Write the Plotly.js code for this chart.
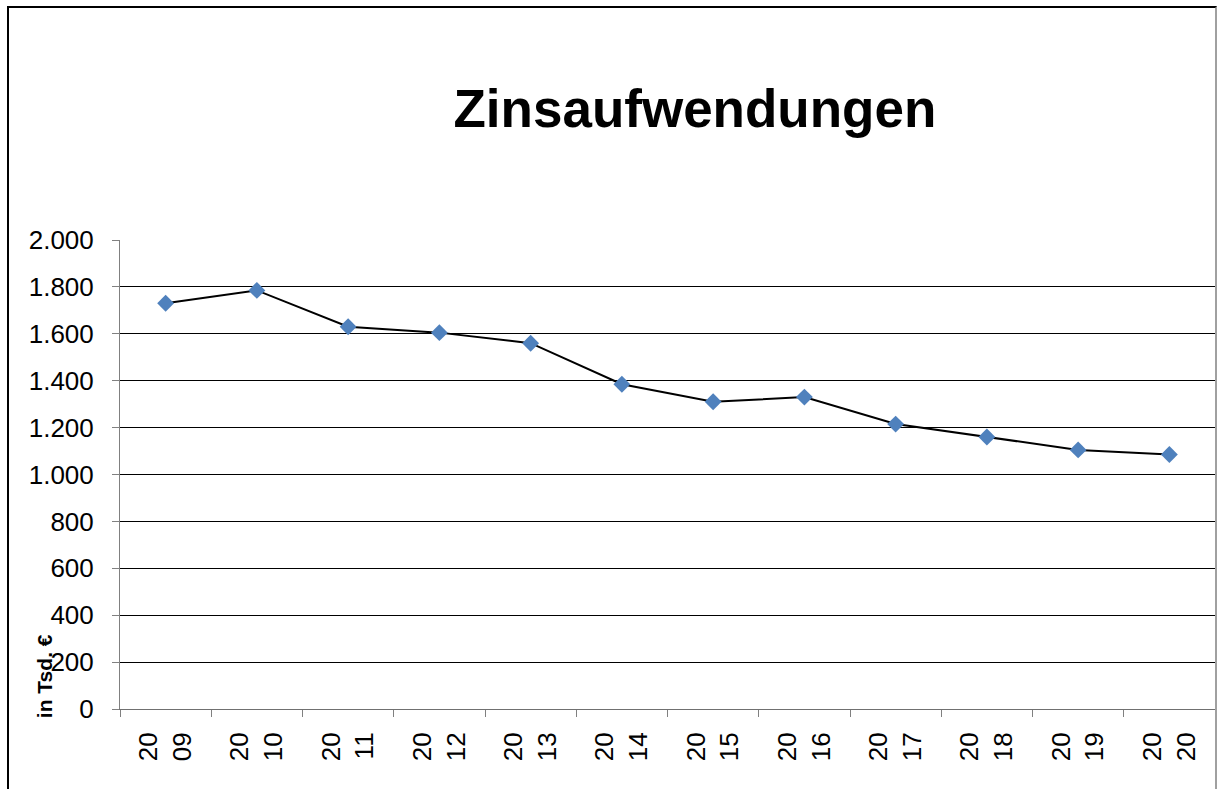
<!DOCTYPE html>
<html>
<head>
<meta charset="utf-8">
<script src="https://cdn.plot.ly/plotly-3.0.1.min.js"></script>
<style>
html,body{margin:0;padding:0;background:#fff;overflow:hidden;}
#frame{position:absolute;left:7px;top:6px;width:1210px;height:820px;border-left:2px solid #000;border-top:2px solid #000;border-right:2px solid #a0a0a0;box-sizing:border-box;pointer-events:none;z-index:5;}
#chart{position:absolute;left:0;top:0;width:1217px;height:789px;}
</style>
</head>
<body>
<div id="chart"></div>
<div id="frame"></div>
<script>
const years = ["2009","2010","2011","2012","2013","2014","2015","2016","2017","2018","2019","2020"];
const tickLabels = ["20<br>09","20<br>10","20<br>11","20<br>12","20<br>13","20<br>14","20<br>15","20<br>16","20<br>17","20<br>18","20<br>19","20<br>20"];
const zinsaufwendungen = [1730, 1785, 1630, 1605, 1560, 1385, 1310, 1330, 1215, 1160, 1105, 1085];
const yTicks = [0,200,400,600,800,1000,1200,1400,1600,1800,2000];

const FONT = 'Liberation Sans, Arial, sans-serif';

const trace = {
  x: years,
  y: zinsaufwendungen,
  type: 'scatter',
  mode: 'lines+markers',
  line: {color: '#000000', width: 2},
  marker: {symbol: 'diamond', size: 13, color: '#4F81BD'},
  hoverinfo: 'x+y'
};

const layout = {
  width: 1217,
  height: 789,
  margin: {l: 120, r: 2, t: 240, b: 80},
  paper_bgcolor: '#ffffff',
  plot_bgcolor: '#ffffff',
  separators: ',.',
  showlegend: false,
  font: {family: FONT, color: '#000'},
  title: {
    text: '<b>Zinsaufwendungen</b>',
    font: {size: 53, family: FONT, color: '#000'},
    x: 0.571, xref: 'container', xanchor: 'center',
    y: 0.863, yref: 'container', yanchor: 'middle'
  },
  xaxis: {
    type: 'category',
    tickmode: 'array',
    tickvals: years,
    ticktext: tickLabels,
    tickangle: -90,
    tickson: 'boundaries',
    ticks: 'outside',
    ticklen: 7,
    tickcolor: '#808080',
    showline: true,
    linecolor: '#707070',
    linewidth: 1,
    showgrid: false,
    zeroline: false,
    tickfont: {size: 26, family: FONT, color: '#000'},
    ticklabelstandoff: 12,
    range: [-0.5, 11.5],
    fixedrange: true
  },
  yaxis: {
    range: [0, 2000],
    tickmode: 'array',
    tickvals: yTicks,
    tickformat: ',d',
    ticks: 'outside',
    ticklen: 7,
    tickcolor: '#808080',
    showline: true,
    linecolor: '#808080',
    linewidth: 1,
    showgrid: true,
    gridcolor: '#000000',
    gridwidth: 1,
    zeroline: false,
    tickfont: {size: 26, family: FONT, color: '#000'},
    ticklabelstandoff: 13,
    fixedrange: true
  },
  annotations: [{
    text: '<b>in Tsd. €</b>',
    xref: 'paper', yref: 'paper',
    x: -0.069, y: 0.071,
    xanchor: 'center', yanchor: 'middle',
    textangle: -90,
    showarrow: false,
    font: {size: 21, family: FONT, color: '#000'}
  }]
};

Plotly.newPlot('chart', [trace], layout, {displayModeBar: false, staticPlot: true});
</script>
</body>
</html>
